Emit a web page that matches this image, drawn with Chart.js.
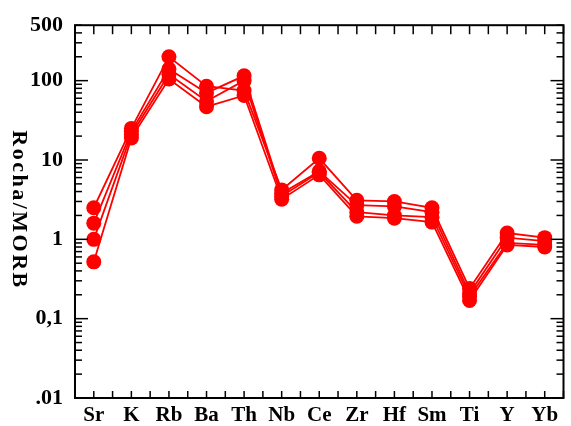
<!DOCTYPE html>
<html>
<head>
<meta charset="utf-8">
<script src="https://cdn.jsdelivr.net/npm/chart.js@4"></script>
<style>
html, body { margin: 0; padding: 0; background: #fff; }
#wrap { width: 571px; height: 426px; }
</style>
</head>
<body>
<div id="wrap"><canvas id="spider"></canvas></div>
<script>
// elementos normalizados ao MORB
const elementos = ['Sr', 'K', 'Rb', 'Ba', 'Th', 'Nb', 'Ce', 'Zr', 'Hf', 'Sm', 'Ti', 'Y', 'Yb'];

const amostra1 = [2.5, 25, 200, 85, 75, 4.2, 10.5, 3.1, 3.0, 2.5, 0.24, 1.2, 1.05];
const amostra2 = [1.6, 23, 140, 70, 115, 3.8, 7.2, 2.7, 2.6, 2.2, 0.21, 1.05, 0.95];
const amostra3 = [1.0, 21, 120, 55, 100, 3.5, 7.0, 2.2, 2.0, 1.9, 0.19, 0.9, 0.85];
const amostra4 = [0.52, 19, 105, 47, 65, 3.2, 6.5, 1.95, 1.85, 1.65, 0.17, 0.85, 0.8];

const yTicks = [0.01, 0.1, 1, 10, 100, 500];
const yTickLabels = ['.01', '0,1', '1', '10', '100', '500'];

const fonte = '"Liberation Serif", "Times New Roman", serif';

function serie(dados) {
  return {
    data: dados,
    borderColor: '#ff0000',
    backgroundColor: '#ff0000',
    borderWidth: 1.8,
    pointRadius: 7.5,
    pointBorderWidth: 0,
    tension: 0
  };
}

// moldura, ticks para dentro e titulo do eixo y
const moldura = {
  id: 'moldura',
  afterDraw(chart) {
    const ctx = chart.ctx;
    const a = chart.chartArea;
    const x = chart.scales.x;
    const y = chart.scales.y;
    ctx.save();
    ctx.strokeStyle = '#000';
    ctx.lineWidth = 1.5;
    function linha(x1, y1, x2, y2) {
      ctx.beginPath(); ctx.moveTo(x1, y1); ctx.lineTo(x2, y2); ctx.stroke();
    }
    for (let d = -2; d <= 2; d++) {
      for (let m = 1; m <= 9; m++) {
        const v = m * Math.pow(10, d);
        if (v > 500) break;
        const py = y.getPixelForValue(v);
        const len = m === 1 ? 13 : 7;
        linha(a.left, py, a.left + len, py);
        linha(a.right, py, a.right - len, py);
      }
    }
    for (let i = -0.5; i <= elementos.length - 0.5; i += 0.5) {
      const px = x.getPixelForValue(i);
      linha(px, a.bottom, px, a.bottom - 7);
      linha(px, a.top, px, a.top + 9);
    }
    ctx.lineWidth = 2;
    ctx.strokeRect(a.left, a.top, a.right - a.left, a.bottom - a.top);

    ctx.translate(19, 210);
    ctx.rotate(Math.PI / 2);
    ctx.fillStyle = '#000';
    ctx.font = 'bold 22px ' + fonte;
    ctx.letterSpacing = '2.5px';
    ctx.textAlign = 'center';
    ctx.textBaseline = 'middle';
    ctx.fillText('Rocha/MORB', 0, 0);
    ctx.restore();
  }
};

new Chart('spider', {
  type: 'line',
  data: {
    labels: elementos,
    datasets: [serie(amostra1), serie(amostra2), serie(amostra3), serie(amostra4)]
  },
  options: {
    responsive: true,
    maintainAspectRatio: false,
    animation: false,
    layout: { padding: { top: 23, right: 3, left: 0, bottom: 0 } },
    plugins: { legend: { display: false }, tooltip: { enabled: false } },
    scales: {
      x: {
        type: 'category',
        offset: true,
        grid: { display: false, drawTicks: false },
        border: { display: false },
        ticks: {
          color: '#000',
          padding: 5,
          maxRotation: 0,
          autoSkip: false,
          font: { family: fonte, size: 21, weight: 'bold' }
        },
        afterFit(s) { s.height = 28; }
      },
      y: {
        type: 'logarithmic',
        min: 0.01,
        max: 500,
        grid: { display: false, drawTicks: false },
        border: { display: false },
        afterBuildTicks(s) { s.ticks = yTicks.map(v => ({ value: v })); },
        ticks: {
          color: '#000',
          padding: 12,
          font: { family: fonte, size: 22, weight: 'bold' },
          callback: (v) => yTickLabels[yTicks.indexOf(v)]
        },
        afterFit(s) { s.width = 75; }
      }
    }
  },
  plugins: [moldura]
});
</script>
</body>
</html>
